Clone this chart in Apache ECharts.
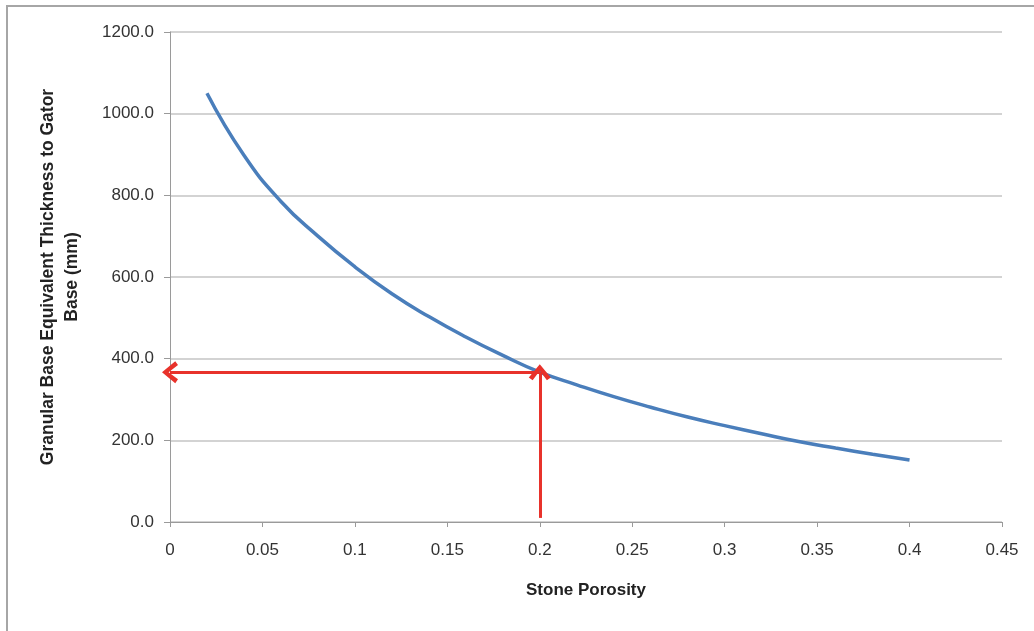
<!DOCTYPE html>
<html>
<head>
<meta charset="utf-8">
<script src="https://cdn.jsdelivr.net/npm/echarts@6/dist/echarts.min.js"></script>
<style>
html,body{margin:0;padding:0;background:#fff;}
#chart{width:1034px;height:631px;}
</style>
</head>
<body>
<div id="chart"></div>
<script>
// Data
const porosity = [0.02, 0.04, 0.06, 0.08, 0.10, 0.12, 0.14, 0.16, 0.18, 0.20, 0.22, 0.24, 0.26, 0.28, 0.30, 0.32, 0.34, 0.36, 0.38, 0.40];
const thickness = [1050, 898, 785, 700, 625, 559, 503, 453, 408, 367, 336, 307, 281, 257, 236, 216, 197, 181, 166, 152];
const xTicks = [0, 0.05, 0.1, 0.15, 0.2, 0.25, 0.3, 0.35, 0.4, 0.45];
const yTicks = [0, 200, 400, 600, 800, 1000, 1200];
const designPorosity = 0.2;
const designThickness = 367;
const arrowStart = 10;

const chart = echarts.init(document.getElementById('chart'));
const chevron = 'path://M0,12 L10,0 L20,12 L16.5,14.5 L10,6 L3.5,14.5 Z';
const FONT = 'Liberation Sans';

chart.setOption({
  animation: false,
  graphic: [{
    type: 'rect',
    shape: {x: 7, y: 6, width: 1040, height: 640},
    style: {fill: 'none', stroke: '#a6a6a6', lineWidth: 2},
    silent: true
  }],
  grid: {left: 170, right: 32, top: 32, bottom: 109},
  xAxis: {
    type: 'value',
    min: xTicks[0],
    max: xTicks[xTicks.length - 1],
    interval: 0.05,
    name: 'Stone Porosity',
    nameLocation: 'middle',
    nameGap: 60,
    nameTextStyle: {fontFamily: FONT, fontWeight: 'bold', fontSize: 17, color: '#222'},
    axisLine: {show: true, lineStyle: {color: '#9a9a9a', width: 1}},
    axisTick: {show: true, length: 5, lineStyle: {color: '#9a9a9a'}},
    axisLabel: {
      fontFamily: FONT, fontSize: 17, color: '#333', margin: 20,
      formatter: v => String(Math.round(v * 100) / 100)
    },
    splitLine: {show: false}
  },
  yAxis: {
    type: 'value',
    min: yTicks[0],
    max: yTicks[yTicks.length - 1],
    interval: 200,
    name: 'Granular Base Equivalent Thickness to Gator\nBase (mm)',
    nameLocation: 'middle',
    nameGap: 86,
    nameRotate: 90,
    nameTextStyle: {fontFamily: FONT, fontWeight: 'bold', fontSize: 17.5, color: '#222', lineHeight: 24},
    axisLine: {show: true, lineStyle: {color: '#9a9a9a', width: 1}},
    axisTick: {show: true, length: 6, lineStyle: {color: '#9a9a9a'}},
    axisLabel: {
      fontFamily: FONT, fontSize: 17, color: '#333', margin: 16,
      formatter: v => v.toFixed(1)
    },
    splitLine: {show: true, lineStyle: {color: '#c4c4c4', width: 1.5}}
  },
  series: [{
    type: 'line',
    data: porosity.map((p, i) => [p, thickness[i]]),
    smooth: 0.5,
    showSymbol: false,
    lineStyle: {color: '#4a7ebb', width: 3.5},
    itemStyle: {color: '#4a7ebb'},
    z: 3,
    markLine: {
      silent: true,
      symbol: ['none', chevron],
      symbolSize: [22, 16],
      label: {show: false},
      lineStyle: {color: '#e8322b', width: 3, type: 'solid'},
      z: 4,
      data: [
        [{coord: [designPorosity, arrowStart]}, {coord: [designPorosity, designThickness]}],
        [{coord: [designPorosity, designThickness]}, {coord: [0, designThickness]}]
      ]
    }
  }]
});
</script>
</body>
</html>
